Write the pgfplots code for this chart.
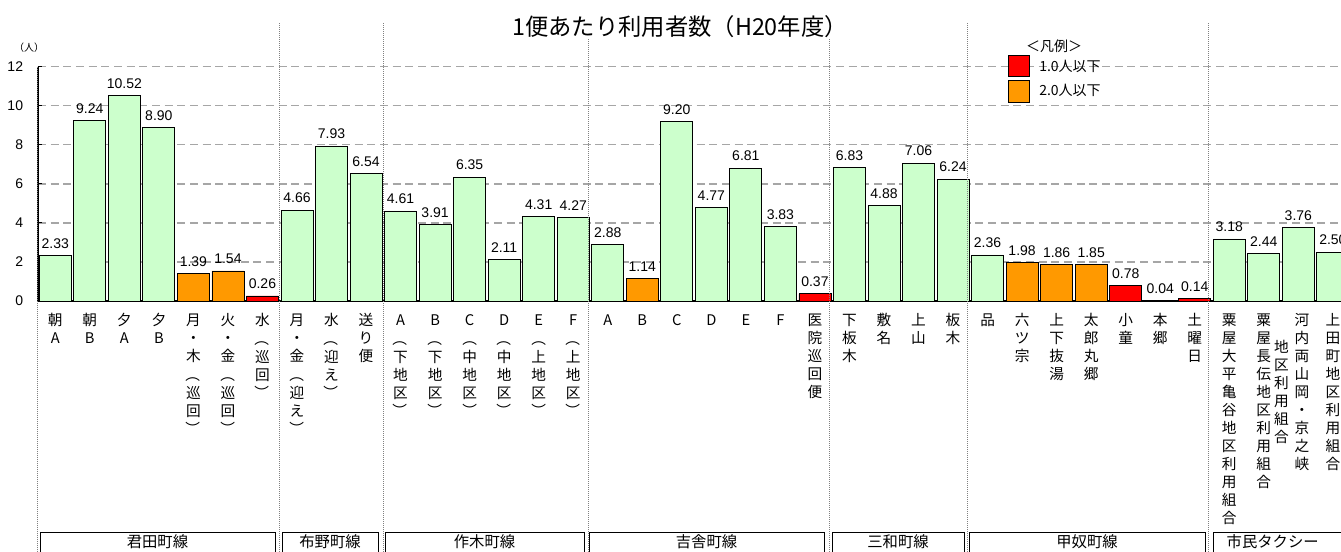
\documentclass[border=0pt]{standalone}
\usepackage{fontspec}
\setmainfont{Noto Sans CJK JP}
\newfontfamily\numfont{Liberation Sans}
\usepackage{graphicx}
\usepackage{pgfplots}
\pgfplotsset{compat=1.18}
\definecolor{barg}{HTML}{CCFFCC}
\definecolor{baro}{HTML}{FF9900}
\definecolor{barr}{HTML}{FF0000}
\definecolor{gridc}{HTML}{A6A6A6}
\newcommand{\vt}[1]{\begin{tabular}[t]{@{}c@{}}#1\end{tabular}}
\newcommand{\vc}[1]{\begin{tabular}[c]{@{}c@{}}#1\end{tabular}}
\newcommand{\lp}{\rotatebox[origin=c]{-90}{（}}
\newcommand{\rp}{\rotatebox[origin=c]{-90}{）}}
\begin{document}
\begin{tikzpicture}
\path[use as bounding box] (-28.5pt,-187.5pt) rectangle (977.25pt,225.75pt);
\clip (-28.5pt,-187.5pt) rectangle (977.25pt,225.75pt);
\begin{axis}[
  at={(0pt,0pt)}, anchor=south west,
  scale only axis, width=984.1pt, height=175.75pt,
  xmin=-0.5, xmax=37.5, ymin=0, ymax=12,
  axis x line*=bottom, axis y line*=left,
  axis line style={black, line width=0.8pt},
  ytick={0,2,...,12},
  ymajorgrids,
  grid style={gridc, line width=1pt, dash pattern=on 6pt off 3.5pt},
  tick align=inside,
  major tick length=3pt,
  ytick style={black, line width=0.6pt},
  xtick={0,...,37},
  xtick style={draw=none},
  /pgf/number format/assume math mode=true,
  xticklabels={
    {\vt{朝\\A}},{\vt{朝\\B}},{\vt{夕\\A}},{\vt{夕\\B}},
    {\vt{月\\・\\木\\\lp\\巡\\回\\\rp}},{\vt{火\\・\\金\\\lp\\巡\\回\\\rp}},{\vt{水\\\lp\\巡\\回\\\rp}},
    {\vt{月\\・\\金\\\lp\\迎\\え\\\rp}},{\vt{水\\\lp\\迎\\え\\\rp}},{\vt{送\\り\\便}},
    {\vt{A\\\lp\\下\\地\\区\\\rp}},{\vt{B\\\lp\\下\\地\\区\\\rp}},{\vt{C\\\lp\\中\\地\\区\\\rp}},
    {\vt{D\\\lp\\中\\地\\区\\\rp}},{\vt{E\\\lp\\上\\地\\区\\\rp}},{\vt{F\\\lp\\上\\地\\区\\\rp}},
    {\vt{A}},{\vt{B}},{\vt{C}},{\vt{D}},{\vt{E}},{\vt{F}},{\vt{医\\院\\巡\\回\\便}},
    {\vt{下\\板\\木}},{\vt{敷\\名}},{\vt{上\\山}},{\vt{板\\木}},
    {\vt{品}},{\vt{六\\ツ\\宗}},{\vt{上\\下\\抜\\湯}},{\vt{太\\郎\\丸\\郷}},{\vt{小\\童}},{\vt{本\\郷}},{\vt{土\\曜\\日}},
    {\vt{粟\\屋\\大\\平\\亀\\谷\\地\\区\\利\\用\\組\\合}},
    {\vt{粟\\屋\\長\\伝\\地\\区\\利\\用\\組\\合}},
    {\vc{地\\区\\利\\用\\組\\合}\hspace{4.5pt}\vc{河\\内\\両\\山\\岡\\・\\京\\之\\峡}\rule{10pt}{0pt}},
    {\vt{上\\田\\町\\地\\区\\利\\用\\組\\合}}
  },
  xticklabel style={font=\fontsize{11pt}{13.5pt}\selectfont, anchor=north, inner sep=0pt, yshift=-9pt},
  yticklabel style={font=\numfont\fontsize{10.5pt}{12pt}\selectfont, anchor=east, inner sep=0pt, xshift=-11pt},
  nodes near coords={\pgfmathprintnumber[fixed,fixed zerofill,precision=2]{\pgfplotspointmeta}},
  every node near coord/.append style={font=\numfont\fontsize{10.5pt}{12pt}\selectfont, inner sep=0pt, yshift=5pt, black},
]
\addplot[ybar, bar width=24pt, bar shift=0pt, fill=barg, draw=black, line width=0.6pt] coordinates {
 (0,2.33)(1,9.24)(2,10.52)(3,8.90)(7,4.66)(8,7.93)(9,6.54)(10,4.61)(11,3.91)(12,6.35)(13,2.11)(14,4.31)(15,4.27)
 (16,2.88)(18,9.20)(19,4.77)(20,6.81)(21,3.83)(23,6.83)(24,4.88)(25,7.06)(26,6.24)(27,2.36)(34,3.18)(35,2.44)(36,3.76)(37,2.50)};
\addplot[ybar, bar width=24pt, bar shift=0pt, fill=baro, draw=black, line width=0.6pt] coordinates {
 (4,1.39)(5,1.54)(17,1.14)(28,1.98)(29,1.86)(30,1.85)};
\addplot[ybar, bar width=24pt, bar shift=0pt, fill=barr, draw=black, line width=0.6pt] coordinates {
 (6,0.26)(22,0.37)(31,0.78)(32,0.04)(33,0.14)};
\end{axis}
% group separators
\begin{scope}[gray, line width=0.6pt, dash pattern=on 0.75pt off 0.75pt]
\draw (-0.75pt,175.75pt) -- (-0.75pt,-195pt);
\foreach \x in {180.75,258.75,412.5,593.25,696.75,877.5}{
  \draw (\x pt,208.5pt) -- (\x pt,-195pt);
}
\end{scope}
% title
\node[fill=white, inner sep=1pt, font=\fontsize{17.5pt}{19pt}\selectfont] at (481.5pt,205.5pt) {1便あたり利用者数（H20年度）};
\node[font=\fontsize{7.5pt}{9pt}\selectfont] at (-6.75pt,190.1pt) {（人）};
% legend
\node[font=\fontsize{10.5pt}{12pt}\selectfont] at (762pt,191.25pt) {＜凡例＞};
\draw[fill=barr, draw=black, line width=0.6pt] (727.5pt,168.75pt) rectangle (743.25pt,184.5pt);
\draw[fill=baro, draw=black, line width=0.6pt] (727.5pt,149.25pt) rectangle (743.25pt,165.75pt);
\node[anchor=west, inner sep=0pt, font=\fontsize{10.5pt}{12pt}\selectfont] at (750.75pt,176.25pt) {1.0人以下};
\node[anchor=west, inner sep=0pt, font=\fontsize{10.5pt}{12pt}\selectfont] at (750.75pt,157.9pt) {2.0人以下};
% group boxes
\begin{scope}[line width=0.6pt]
\foreach \a/\b in {1.5/177.75, 183/255, 260.25/409.5, 413.25/589.5, 595.5/694.5, 698.25/875.25, 881.25/990}{
  \draw (\a pt,-173.25pt) rectangle (\b pt,-200pt);
}
\foreach \m/\t in {89.6/君田町線, 219/布野町線, 334.9/作木町線, 501.4/吉舎町線, 645/三和町線, 786.75/甲奴町線, 926/市民タクシー}{
  \node[font=\fontsize{11.5pt}{13pt}\selectfont] at (\m pt,-180.75pt) {\t};
}
\end{scope}
\end{tikzpicture}
\end{document}
